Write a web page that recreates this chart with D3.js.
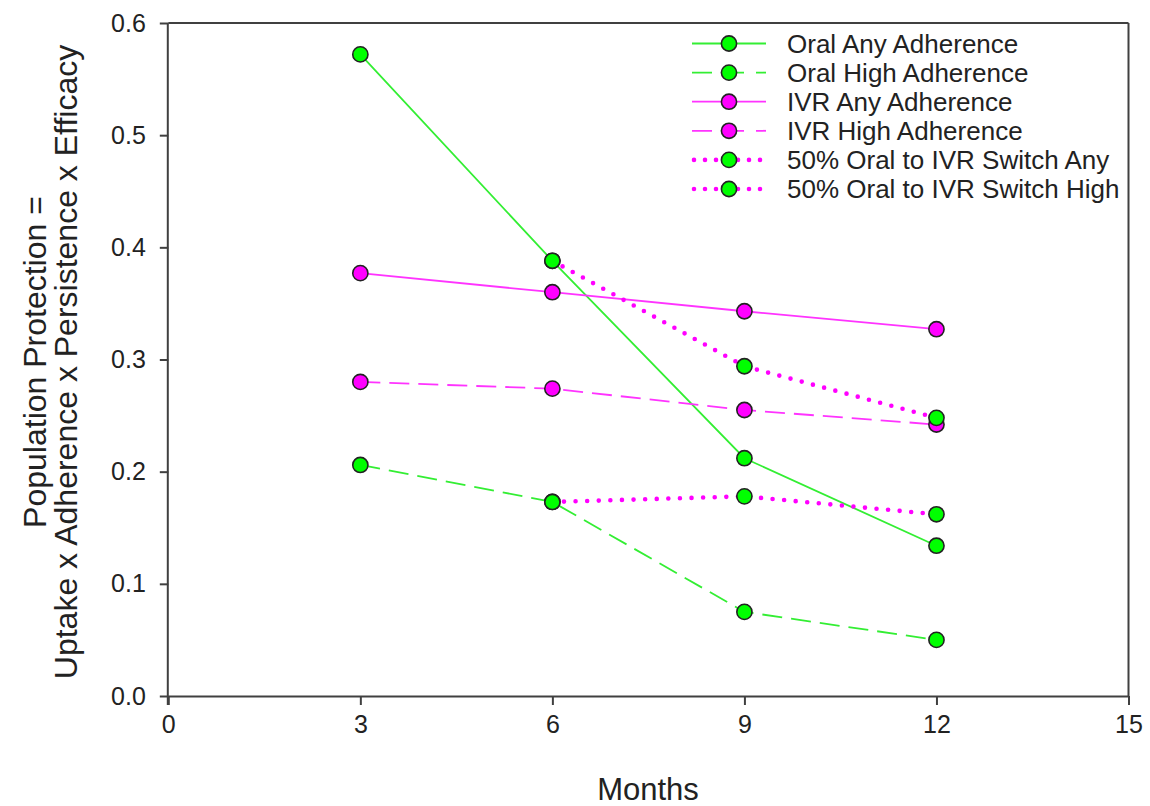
<!DOCTYPE html>
<html>
<head>
<meta charset="utf-8">
<script src="https://cdn.jsdelivr.net/npm/d3@7"></script>
<style>
  html, body { margin: 0; padding: 0; background: #fff; }
  svg { display: block; font-family: "Liberation Sans", Arial, sans-serif; }
</style>
</head>
<body>
<svg id="chart" width="1150" height="806"></svg>
<script>
// ---- data ----
const months = [3, 6, 9, 12];
const switchMonths = [6, 9, 12];
const oralAny    = [0.572, 0.388, 0.212, 0.134];
const oralHigh   = [0.206, 0.173, 0.075, 0.050];
const ivrAny     = [0.377, 0.360, 0.343, 0.327];
const ivrHigh    = [0.280, 0.274, 0.255, 0.242];
const switchAny  = [0.388, 0.294, 0.248];
const switchHigh = [0.173, 0.178, 0.162];
const seriesNames = ["Oral Any Adherence", "Oral High Adherence", "IVR Any Adherence",
  "IVR High Adherence", "50% Oral to IVR Switch Any", "50% Oral to IVR Switch High"];
const xTicks = [0, 3, 6, 9, 12, 15];
const yTicks = [0.0, 0.1, 0.2, 0.3, 0.4, 0.5, 0.6];
const xTitle = "Months";
const yTitle1 = "Population Protection =";
const yTitle2 = "Uptake x Adherence x Persistence x Efficacy";

// ---- styles ----
const GREEN = "#00ff00", GREEN_LINE = "#33ee33";
const MAG = "#ff00ff", MAG_LINE = "#ff33ff";
const styles = [
  { line: GREEN_LINE, marker: GREEN, dash: null, width: 1.8 },
  { line: GREEN_LINE, marker: GREEN, dash: "20,9", width: 1.8 },
  { line: MAG_LINE, marker: MAG, dash: null, width: 1.8 },
  { line: MAG_LINE, marker: MAG, dash: "20,9", width: 1.8 },
  { line: MAG, marker: GREEN, dash: "0,11.6", width: 4.6, round: true },
  { line: MAG, marker: GREEN, dash: "0,11.6", width: 4.6, round: true }
];
const series = [
  { x: months, y: oralAny },
  { x: months, y: oralHigh },
  { x: months, y: ivrAny },
  { x: months, y: ivrHigh },
  { x: switchMonths, y: switchAny },
  { x: switchMonths, y: switchHigh }
].map((s, i) => ({ name: seriesNames[i], pts: s.x.map((m, j) => [m, s.y[j]]), st: styles[i] }));

// ---- layout ----
const L = 168.3, R = 1128.5, T = 23, B = 696;
const svg = d3.select("#chart");
svg.append("rect").attr("width", 1150).attr("height", 806).attr("fill", "#fff");

const x = d3.scaleLinear().domain([0, 15]).range([L, R]);
const y = d3.scaleLinear().domain([0, 0.6]).range([B, T]);
const AX = "#404040";

// frame (top & right)
svg.append("line").attr("x1", L).attr("x2", R).attr("y1", T).attr("y2", T)
  .attr("stroke", AX).attr("stroke-width", 2);
svg.append("line").attr("x1", R).attr("x2", R).attr("y1", T).attr("y2", B)
  .attr("stroke", AX).attr("stroke-width", 2);

// axes
const xAxis = svg.append("g").attr("transform", `translate(0,${B})`)
  .call(d3.axisBottom(x).tickValues(xTicks).tickSize(9).tickPadding(10).tickSizeOuter(0).tickFormat(d3.format("d")));
const yAxis = svg.append("g").attr("transform", `translate(${L},0)`)
  .call(d3.axisLeft(y).tickValues(yTicks).tickSize(8.5).tickPadding(14).tickSizeOuter(0).tickFormat(d3.format(".1f")));
[xAxis, yAxis].forEach(g => {
  g.select(".domain").attr("stroke", AX).attr("stroke-width", 2);
  g.selectAll(".tick line").attr("stroke", AX).attr("stroke-width", 2);
  g.selectAll(".tick text").attr("fill", "#222").attr("font-size", 25)
    .attr("font-family", "'Liberation Sans', Arial, sans-serif");
});
xAxis.select(".domain").attr("d", `M${L},0.5H${R}`);
yAxis.select(".domain").attr("d", `M-0.5,${T}V${B + 9}`);

// titles
svg.append("text").attr("x", 648).attr("y", 800).attr("text-anchor", "middle")
  .attr("font-size", 31).attr("fill", "#222").text(xTitle);
svg.append("text").attr("transform", "translate(46,362) rotate(-90)").attr("text-anchor", "middle")
  .attr("font-size", 32).attr("fill", "#222").text(yTitle1);
svg.append("text").attr("transform", "translate(77,362) rotate(-90)").attr("text-anchor", "middle")
  .attr("font-size", 32).attr("fill", "#222").text(yTitle2);

// lines
const lineGen = d3.line().x(d => x(d[0])).y(d => y(d[1]));
const plot = svg.append("g");
series.forEach(s => {
  const p = plot.append("path").attr("d", lineGen(s.pts)).attr("fill", "none")
    .attr("stroke", s.st.line).attr("stroke-width", s.st.width);
  if (s.st.dash) p.attr("stroke-dasharray", s.st.dash);
  if (s.st.round) p.attr("stroke-linecap", "round");
});
// markers
series.forEach(s => {
  plot.selectAll(null).data(s.pts).enter().append("circle")
    .attr("cx", d => x(d[0])).attr("cy", d => y(d[1])).attr("r", 7.6)
    .attr("fill", s.st.marker).attr("stroke", "#222").attr("stroke-width", 1.6);
});

// legend
const leg = svg.append("g");
series.forEach((s, i) => {
  const ly = 43.5 + i * 29.1;
  const g = leg.append("g");
  const p = g.append("line").attr("x1", 692).attr("x2", 766).attr("y1", ly).attr("y2", ly)
    .attr("stroke", s.st.line).attr("stroke-width", s.st.width);
  if (s.st.dash) p.attr("stroke-dasharray", s.st.round ? "0,11" : "20,12");
  if (s.st.round) p.attr("stroke-linecap", "round").attr("x1", 694).attr("x2", 765);
  g.append("circle").attr("cx", 729).attr("cy", ly).attr("r", 7.6)
    .attr("fill", s.st.marker).attr("stroke", "#222").attr("stroke-width", 1.6);
  g.append("text").attr("x", 787).attr("y", ly + 9.3).attr("font-size", 26)
    .attr("fill", "#222").text(s.name);
});
</script>
</body>
</html>
